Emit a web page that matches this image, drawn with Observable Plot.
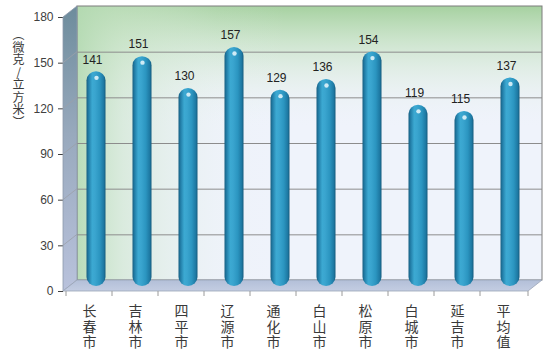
<!DOCTYPE html>
<html><head><meta charset="utf-8">
<script src="https://cdn.jsdelivr.net/npm/d3@7"></script>
<script src="https://cdn.jsdelivr.net/npm/@observablehq/plot@0.6"></script>
<style>body{margin:0;background:#fff} #chart{width:550px;height:359px}</style>
</head><body><div id="chart"></div>
<script>
const cities = ["长春市","吉林市","四平市","辽源市","通化市","白山市","松原市","白城市","延吉市","平均值"];
const values = [141,151,130,157,129,136,154,119,115,137];
const yTicks = [0,30,60,90,120,150,180];
const yTitleChars = ["︵","微","克","/","立","方","米","︶"];
const data = cities.map((c,i)=>({city:c, value:values[i]}));

// 3D depth offsets (pixels)
const DX = 14, DY = -11, BX = 7, BY = -5;

function backWall(index, scales, vals, dim) {
  const x0 = dim.marginLeft, x1 = dim.width - dim.marginRight;
  const y0 = dim.marginTop, y1 = dim.height - dim.marginBottom;
  const g = d3.create("svg:g");
  const r = (fill) => g.append("rect").attr("x", x0+DX).attr("y", y0+DY)
      .attr("width", x1-x0).attr("height", y1-y0).attr("fill", fill);
  r("#eff3fb"); r("url(#wallV)"); r("url(#wallH)");
  r("none").attr("stroke","#7d7d7d").attr("stroke-width",1);
  return g.node();
}
function sideFloor(index, scales, vals, dim) {
  const x0 = dim.marginLeft, x1 = dim.width - dim.marginRight;
  const y0 = dim.marginTop, y1 = dim.height - dim.marginBottom;
  const g = d3.create("svg:g");
  g.append("path").attr("d", `M${x0},${y1}L${x0},${y0}L${x0+DX},${y0+DY}L${x0+DX},${y1+DY}Z`)
    .attr("fill","url(#sideGrad)").attr("stroke","#8e99ab").attr("stroke-width",0.8);
  g.append("path").attr("d", `M${x0},${y1}L${x0+DX},${y1+DY}L${x1+DX},${y1+DY}L${x1},${y1}Z`)
    .attr("fill","url(#floorGrad)").attr("stroke","#9aa4b6").attr("stroke-width",0.8);
  for (const t of yTicks.slice(1,-1)) {
    const y = scales.y(t);
    g.append("line").attr("x1", x0).attr("y1", y).attr("x2", x0+DX).attr("y2", y+DY)
      .attr("stroke","#9a9fa8").attr("stroke-width",0.8);
  }
  // category boundary ticks
  const edges = cities.map(c => scales.x(c)).concat([x1]);
  for (const xe of edges) {
    g.append("line").attr("x1", xe).attr("y1", y1).attr("x2", xe).attr("y2", y1+5)
      .attr("stroke","#9a9a9a").attr("stroke-width",1);
  }
  return g.node();
}

const chart = Plot.plot({
  width: 550, height: 359,
  marginLeft: 63, marginRight: 22, marginTop: 17, marginBottom: 68,
  style: {fontFamily: "'Liberation Sans', 'Noto Sans CJK SC', sans-serif", fontSize: "12px", color: "#404040", background: "transparent"},
  x: {domain: cities, padding: 0, axis: null},
  y: {domain: [0, 180], ticks: yTicks, tickSize: 5, tickPadding: 5, label: null},
  marks: [
    backWall,
    Plot.ruleY(yTicks.slice(1,-1), {dx: DX, dy: DY, stroke: "#8c8c8c", strokeWidth: 1}),
    sideFloor,
    Plot.barY(data, {x: "city", y: "value", fill: "url(#barGrad)", insetLeft: 13.5, insetRight: 13.5, rx: 10, ry: 9, dx: BX, dy: BY}),
    Plot.dot(data, {x: "city", y: "value", r: 2.2, fill: "#eaf8fd", fillOpacity: 0.85, stroke: null, dx: BX, dy: BY + 6}),
    Plot.text(data, {x: "city", y: "value", text: d => String(d.value), dx: 3, dy: -17, fontSize: 12, fill: "#222"}),
    Plot.text(data, {x: "city", text: d => d.city.split("").join("\n"), frameAnchor: "bottom", lineAnchor: "top", dy: 14, fontSize: 14, lineHeight: 1.1, fill: "#3a3a3a", fontFamily: "'Noto Sans CJK SC', sans-serif"}),
    Plot.text([yTitleChars.join("\n")], {text: d => d, frameAnchor: "top-left", lineAnchor: "top", textAnchor: "middle", dx: -45, dy: 13, fontSize: 12, lineHeight: 1.04, fill: "#3a3a3a", fontFamily: "'Noto Sans CJK SC', sans-serif"})
  ]
});
document.getElementById("chart").appendChild(chart);

const svg = d3.select(chart);
const defs = svg.insert("defs", ":first-child");
function lin(id, x2, y2, stops) {
  const g = defs.append("linearGradient").attr("id", id).attr("x1",0).attr("y1",0).attr("x2",x2).attr("y2",y2);
  for (const [o,c,op] of stops) g.append("stop").attr("offset",o).attr("stop-color",c).attr("stop-opacity", op ?? 1);
}
lin("barGrad", 1, 0, [[0,"#175f82"],[0.12,"#2380aa"],[0.3,"#3ca9d2"],[0.45,"#3aa5cf"],[0.7,"#2b95c0"],[0.9,"#1e79a3"],[1,"#155c7e"]]);
lin("sideGrad", 0, 1, [[0,"#6d8c9c"],[0.45,"#98a9bd"],[1,"#b9c2dc"]]);
lin("floorGrad", 0, 1, [[0,"#b3bfd8"],[1,"#c3cde2"]]);
lin("wallV", 0, 1, [[0,"#a6d1a0",1],[0.12,"#c2e0bf",0.8],[0.3,"#dcecdc",0.3],[0.45,"#eff3fb",0]]);
lin("wallH", 1, 0, [[0,"#b4dab2",0.9],[0.1,"#c9e4c7",0.55],[0.3,"#e0eee4",0.12],[0.45,"#eff3fb",0]]);
</script>
</body></html>
